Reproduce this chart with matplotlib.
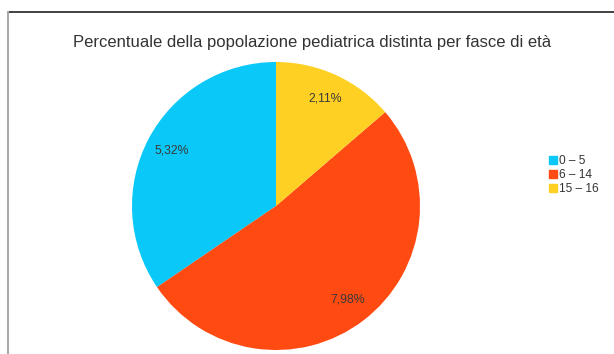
import matplotlib.pyplot as plt
from matplotlib.lines import Line2D

# data
fasce = ['0 – 5', '6 – 14', '15 – 16']
valori = [5.32, 7.98, 2.11]
colori = ['#0ac8f7', '#ff4a12', '#ffd024']

titolo = 'Percentuale della popolazione pediatrica distinta per fasce di età'

plt.rcParams['font.family'] = ['Liberation Sans', 'DejaVu Sans']

fig = plt.figure(figsize=(6.14, 3.54), dpi=100)
fig.patch.set_facecolor('white')

# frame lines of the screenshot
fig.add_artist(Line2D([8 / 614, 1], [1 - 12 / 354, 1 - 12 / 354], color='#333333', lw=1.3))
fig.add_artist(Line2D([8 / 614, 8 / 614], [0, 1 - 12 / 354], color='#aaaaaa', lw=1.5))

ax = fig.add_axes([132 / 614, 4 / 354, 288 / 614, 288 / 354])

totale = sum(valori)


def etichetta(pct):
    v = pct * totale / 100
    return f'{v:.2f}%'.replace('.', ',')


wedges, testi, autotesti = ax.pie(valori, colors=colori, startangle=90, counterclock=True,
                                  autopct=etichetta, pctdistance=0.82,
                                  wedgeprops=dict(linewidth=0),
                                  textprops=dict(fontsize=8.8, color='#3a3a3a'))
ax.set_xlim(-1, 1)
ax.set_ylim(-1, 1)
ax.set_aspect('equal')

fig.text(312 / 614, 1 - 42 / 354, titolo, ha='center', va='center', fontsize=12, color='#333333')

maniglie = [Line2D([], [], marker='s', color=c, linestyle='none', markersize=6) for c in colori]
fig.legend(maniglie, fasce, loc='center left', bbox_to_anchor=(549 / 614, 1 - 175 / 354),
           frameon=False, fontsize=8.6, handlelength=0.6, handletextpad=0.2,
           labelspacing=0.15, labelcolor='#333333', borderpad=0, borderaxespad=0)

fig.savefig('out.png', dpi=100)
